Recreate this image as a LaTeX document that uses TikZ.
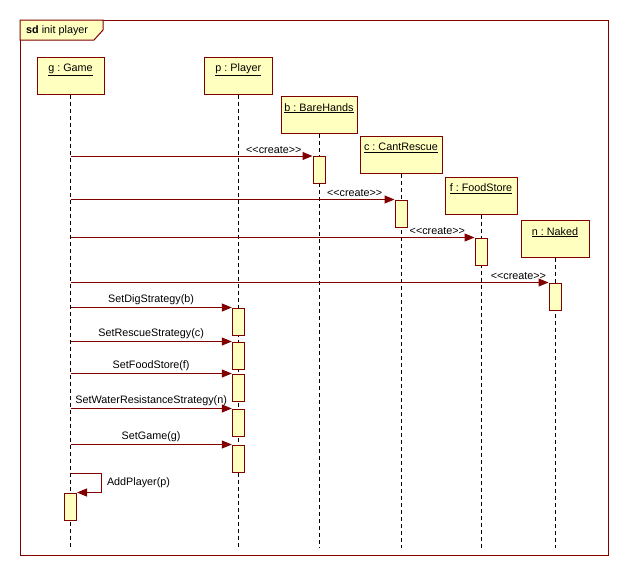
\documentclass[tikz,border=0pt]{standalone}
\usepackage{fontspec}
\setmainfont{Liberation Sans}
\usetikzlibrary{arrows.meta}
\definecolor{umlred}{RGB}{128,0,0}
\definecolor{umlfill}{RGB}{255,255,192}
\frenchspacing

\begin{document}
\begin{tikzpicture}[x=1pt,y=-1pt,font=\fontsize{10.8}{12}\selectfont]
    \tikzstyle{head} = [draw=umlred,fill=umlfill,line width=1pt,minimum height=37pt,inner sep=0pt]
    \tikzstyle{headtext} = [anchor=north,inner sep=7pt]
    \tikzstyle{act} = [draw=umlred,fill=umlfill,line width=1pt,minimum width=12pt,minimum height=27pt,inner sep=0pt]
    \tikzstyle{life} = [dash pattern=on 4pt off 3pt,line width=1pt]
    \tikzstyle{msg} = [umlred,line width=1pt,-{Triangle[length=10pt,width=8pt]}]
    \tikzstyle{msgtext} = [above,inner sep=2pt,text=black]
    \useasboundingbox (0,0) rectangle (628,576);
    % frame
    \draw [umlred,line width=1pt] (20,20) rectangle (608,555);
    \draw [umlred,fill=umlfill,line width=1pt] (20,20) -- (103,20) -- (103,30) -- (94,40) -- (20,40) -- cycle;
    \node [anchor=west,inner sep=0pt] (title) at (26,31) {\textbf{sd} init player};
    % lifeline heads
    \node [head,minimum width=67pt,label={[headtext]north:\underline{g : Game}}] (g) at (70.5,75.5) {};
    \node [head,minimum width=68pt,label={[headtext]north:\underline{p : Player}}] (p) at (238.3,75.5) {};
    \node [head,minimum width=76pt,label={[headtext]north:\underline{b : BareHands}}] (b) at (319,115) {};
    \node [head,minimum width=82pt,label={[headtext]north:\underline{c : CantRescue}}] (c) at (401,155) {};
    \node [head,minimum width=72pt,label={[headtext]north:\underline{f : FoodStore}}] (f) at (481,195.5) {};
    \node [head,minimum width=68pt,label={[headtext]north:\underline{n : Naked}}] (n) at (555,239) {};
    \coordinate (bottom) at (0,548);
    \foreach \o in {g,p,b,c,f,n}
      \draw [life] (\o.south) -- (\o.south |- bottom);
    % activations
    \node [act] (actb) at (319,170) {};
    \node [act] (actc) at (401,213.5) {};
    \node [act] (actf) at (481,251.5) {};
    \node [act] (actn) at (555,296.5) {};
    \node [act] (actp1) at (238.3,321.5) {};
    \node [act] (actp2) at (238.3,355.5) {};
    \node [act] (actp3) at (238.3,387.5) {};
    \node [act] (actp4) at (238.3,422.5) {};
    \node [act] (actp5) at (238.3,458.5) {};
    \node [act] (actg) at (70.5,506.5) {};
    % messages
    \draw [msg] (g.south |- actb.north) -- (actb.north west) node [msgtext,pos=0.84] {<{}<create>{}>};
    \draw [msg] (g.south |- actc.north) -- (actc.north west) node [msgtext,pos=0.877] {<{}<create>{}>};
    \draw [msg] (g.south |- actf.north) -- (actf.north west) node [msgtext,pos=0.908] {<{}<create>{}>};
    \draw [msg] (g.south |- actn.north) -- (actn.north west) node [msgtext,pos=0.937] {<{}<create>{}>};
    \draw [msg] (g.south |- actp1.north) -- (actp1.north west) node [msgtext,midway] {SetDigStrategy(b)};
    \draw [msg] (g.south |- actp2.north) -- (actp2.north west) node [msgtext,midway] {SetRescueStrategy(c)};
    \draw [msg] (g.south |- actp3.north) -- (actp3.north west) node [msgtext,midway] {SetFoodStore(f)};
    \draw [msg] (g.south |- actp4.north) -- (actp4.north west) node [msgtext,midway] {SetWaterResistanceStrategy(n)};
    \draw [msg] (g.south |- actp5.north) -- (actp5.north west) node [msgtext,midway] {SetGame(g)};
    \coordinate (loop) at (101,473);
    \draw [msg] (g.south |- loop) -- (loop) |- (actg.north east) node [pos=0.25,right,inner sep=5.5pt,text=black] {AddPlayer(p)};
\end{tikzpicture}
\end{document}
